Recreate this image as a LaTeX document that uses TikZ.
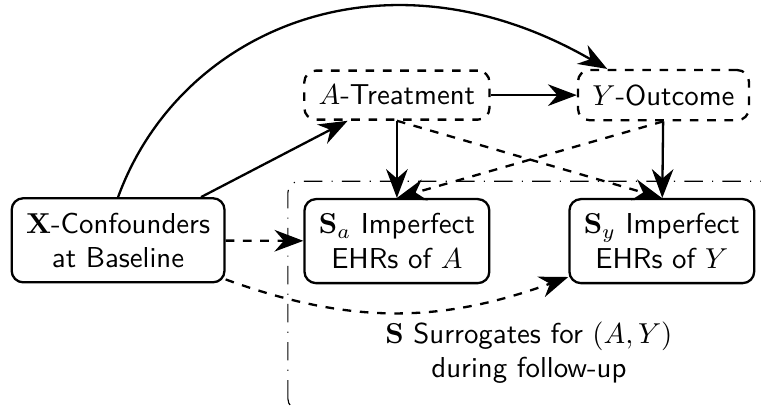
\documentclass[tikz,border=0pt]{standalone}
\usepackage{amsmath,amssymb}
\usepackage{tikz}
\usetikzlibrary{arrows.meta,positioning,calc}

\tikzset{
    var/.style={draw, thick, rounded corners=4pt, align=center, inner sep=5pt, font=\sffamily},
    latent/.style={var, dashed},
    arr/.style={thick, -{Stealth[length=10pt,width=7.5pt]}},
    darr/.style={arr, dashed},
    frame/.style={thin, rounded corners=4pt, dash pattern=on 6.4pt off 3.2pt on 0.4pt off 3.2pt}
}

\begin{document}
\begin{tikzpicture}
    \useasboundingbox (0,0) rectangle (9.28,4.98);

    % surrogate region
    \draw[frame] (3.51,-0.02) rectangle (9.7,2.77);
    \node[font=\sffamily, align=center] (surr) at (6.45,0.68) {$\mathbf{S}$ Surrogates for $(A,Y)$\\during follow-up};

    \node[var] (X) at (1.44,2.05) {$\mathbf{X}$-Confounders\\at Baseline};
    \node[latent] (A) at (4.84,3.82) {$A$-Treatment};
    \node[latent] (Y) at (8.09,3.82) {$Y$-Outcome};
    \node[var] (Sa) at (4.84,2.04) {$\mathbf{S}_a$ Imperfect\\EHRs of $A$};
    \node[var] (Sy) at (8.07,2.04) {$\mathbf{S}_y$ Imperfect\\EHRs of $Y$};

    \draw[arr] (X) -- (A);
    \draw[arr] (A) -- (Y);
    \draw[arr] (A) -- (Sa);
    \draw[arr] (Y) -- (Sy);
    \draw[arr] (X.north) to[out=70, in=150, out looseness=0.9, in looseness=1.3] (Y.155);

    \draw[darr] (X) -- (Sa);
    \draw[darr] (A.south) -- (Sy.north);
    \draw[darr] (Y.south) -- (Sa.north);
    \draw[darr] (X.340) to[out=-20, in=200] (Sy.201);
\end{tikzpicture}
\end{document}
